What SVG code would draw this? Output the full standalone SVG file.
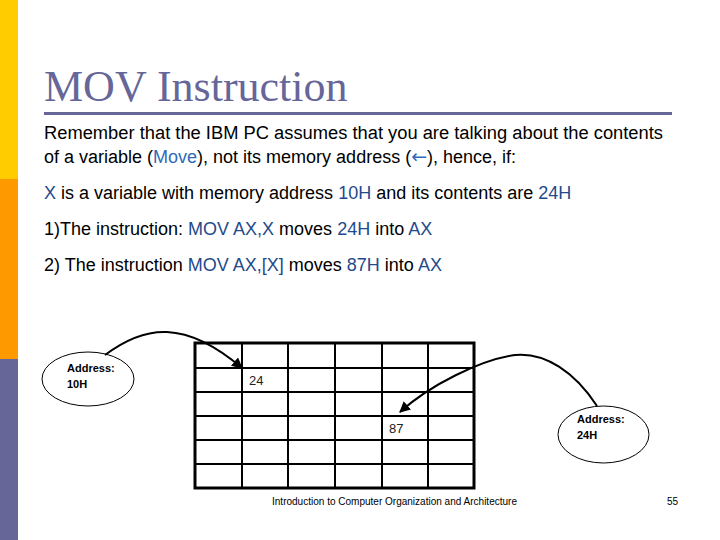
<svg xmlns="http://www.w3.org/2000/svg" width="720" height="540" viewBox="0 0 720 540">
<style>
.body{font-family:"Liberation Sans",Arial,sans-serif;font-size:18px;fill:#000}
.hl{fill:#1f4a8c}
.mv{fill:#2e6bb8}
.addr{font-family:"Liberation Sans",Arial,sans-serif;font-size:11px;font-weight:bold;fill:#000}
.cell{font-family:"Liberation Sans",Arial,sans-serif;font-size:13px;fill:#222}
.foot{font-family:"Liberation Sans",Arial,sans-serif;font-size:10px;fill:#000}
.grid line{stroke:#000;stroke-width:2}
.conn path{fill:none;stroke:#000;stroke-width:2}
</style>
<defs>
<marker id="ah" viewBox="0 0 10 10" refX="9" refY="5" markerWidth="5.5" markerHeight="5.5" orient="auto" markerUnits="strokeWidth">
<path d="M0,0 L10,5 L0,10 Z" fill="#000"/>
</marker>
</defs>
<rect width="720" height="540" fill="#fff"/>
<g id="sidebar">
<rect x="0" y="0" width="18" height="179" fill="#ffcc00"/>
<rect x="0" y="179" width="18" height="180" fill="#ff9900"/>
<rect x="0" y="359" width="18" height="181" fill="#666699"/>
</g>
<g id="title">
<text x="44" y="101" font-family="'Liberation Serif','Times New Roman',serif" font-size="44" fill="#666699">MOV Instruction</text>
<rect x="44" y="112" width="628" height="3" fill="#666699"/>
</g>
<g id="bodytext">
<text class="body" x="44" y="139" textLength="619" lengthAdjust="spacingAndGlyphs">Remember that the IBM PC assumes that you are talking about the contents</text>
<text class="body" x="44" y="163">of a variable (<tspan class="mv">Move</tspan>), not its memory address (<tspan class="mv" font-family="'DejaVu Sans',sans-serif" font-size="19">←</tspan>), hence, if:</text>
<text class="body" x="44" y="199"><tspan class="hl">X</tspan> is a variable with memory address <tspan class="hl">10H</tspan> and its contents are <tspan class="hl">24H</tspan></text>
<text class="body" x="44" y="235">1)The instruction: <tspan class="hl">MOV AX,X</tspan> moves <tspan class="hl">24H</tspan> into <tspan class="hl">AX</tspan></text>
<text class="body" x="44" y="271">2) The instruction <tspan class="hl">MOV AX,[X]</tspan> moves <tspan class="hl">87H</tspan> into <tspan class="hl">AX</tspan></text>
</g>
<g id="memory" class="grid">
<line x1="242" y1="343" x2="242" y2="488"/>
<line x1="288" y1="343" x2="288" y2="488"/>
<line x1="335" y1="343" x2="335" y2="488"/>
<line x1="382" y1="343" x2="382" y2="488"/>
<line x1="428" y1="343" x2="428" y2="488"/>
<line x1="195" y1="368" x2="474" y2="368"/>
<line x1="195" y1="392" x2="474" y2="392"/>
<line x1="195" y1="416" x2="474" y2="416"/>
<line x1="195" y1="440" x2="474" y2="440"/>
<line x1="195" y1="464" x2="474" y2="464"/>
<rect x="195" y="343" width="279" height="145" fill="none" stroke="#000" stroke-width="3"/>
<text class="cell" x="249" y="385">24</text>
<text class="cell" x="389" y="433">87</text>
</g>
<g id="addr10">
<ellipse cx="88" cy="379" rx="46" ry="27" fill="none" stroke="#000" stroke-width="1"/>
<text class="addr" x="67" y="372">Address:</text>
<text class="addr" x="67" y="388">10H</text>
</g>
<g id="addr24">
<ellipse cx="603.5" cy="434.5" rx="45.5" ry="28.5" fill="none" stroke="#000" stroke-width="1"/>
<text class="addr" x="577" y="423">Address:</text>
<text class="addr" x="577" y="439">24H</text>
</g>
<g id="connectors" class="conn">
<path d="M105,355 C125,340 145,331 167,332 C190,333 215,345 242,368" marker-end="url(#ah)"/>
<path d="M597,406 C575,372 545,352 515,355 C480,360 430,385 400,412" marker-end="url(#ah)"/>
</g>
<g id="footer">
<text class="foot" x="272" y="505" textLength="245" lengthAdjust="spacingAndGlyphs">Introduction to Computer Organization and Architecture</text>
<text class="foot" x="667" y="505">55</text>
</g>
</svg>
